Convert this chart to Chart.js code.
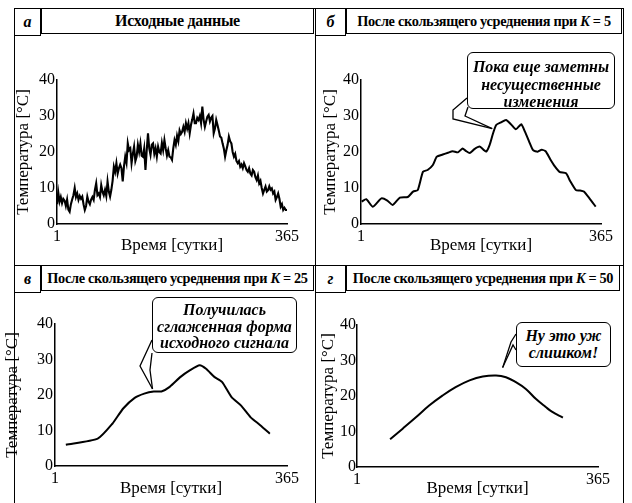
<!DOCTYPE html>
<html>
<head>
<meta charset="utf-8">
<script src="https://cdn.jsdelivr.net/npm/chart.js@4.4.0/dist/chart.umd.min.js"></script>
<style>
    body { margin: 0; background: #fff; width: 632px; height: 503px; position: relative; overflow: hidden; font-family: 'Liberation Serif', 'Times New Roman', serif; color: #000; }
    .frame { position: absolute; box-sizing: border-box; border: 1.5px solid #000; }
    .tag { position: absolute; box-sizing: border-box; border: 1.5px solid #000; background: #fff; font: italic bold 16px 'Liberation Serif', serif; display: flex; align-items: center; justify-content: center; }
    .head { position: absolute; box-sizing: border-box; border: 1.5px solid #000; background: #fff; font: bold 14.3px 'Liberation Serif', serif; display: flex; align-items: center; justify-content: center; white-space: nowrap; letter-spacing: -0.3px; }
    .note { position: absolute; box-sizing: border-box; border: 1.5px solid #000; border-radius: 6px; background: #fff; font: italic bold 16px 'Liberation Serif', serif; text-align: center; z-index: 2; }
    canvas { position: absolute; z-index: 1; }
</style>
</head>
<body>

<!-- panel frames -->
<div class="frame" style="left:14px; top:8px; width:302px; height:258px;"></div>
<div class="frame" style="left:315px; top:8px; width:309px; height:258px;"></div>
<div class="frame" style="left:14px; top:265px; width:302px; height:250px;"></div>
<div class="frame" style="left:315px; top:265px; width:309px; height:250px;"></div>

<div class="tag" style="left:14px; top:8px; width:27px; height:28px;">а</div>
<div class="head" style="left:41px; top:8px; width:273px; height:26px; font-size:16px;">Исходные данные</div>
<div class="tag" style="left:315px; top:8px; width:31px; height:28px;">б</div>
<div class="head" style="left:346px; top:8px; width:276px; height:26px;">После скользящего усреднения при&nbsp;<i>K</i>&nbsp;=&nbsp;5</div>
<div class="tag" style="left:14px; top:265px; width:27px; height:28px;">в</div>
<div class="head" style="left:41px; top:265px; width:273px; height:26px;">После скользящего усреднения при&nbsp;<i>K</i>&nbsp;=&nbsp;25</div>
<div class="tag" style="left:315px; top:265px; width:31px; height:28px;">г</div>
<div class="head" style="left:346px; top:265px; width:274px; height:26px;">После скользящего усреднения при&nbsp;<i>K</i>&nbsp;=&nbsp;50</div>

<canvas id="chartA" width="300" height="222" style="left:2px; top:40px;"></canvas>
<canvas id="chartB" width="300" height="222" style="left:318px; top:40px;"></canvas>
<canvas id="chartC" width="300" height="207" style="left:2px; top:296px;"></canvas>
<canvas id="chartD" width="300" height="207" style="left:318px; top:296px;"></canvas>

<div class="note" style="left:467px; top:52px; width:148px; height:57px; padding-top:5px; line-height:17.5px;">Пока еще заметны<br>несущественные<br>изменения</div>
<div class="note" style="left:152px; top:297px; width:145px; height:56px; padding-top:4px; line-height:16.5px;">Получилась<br>сглаженная форма<br>исходного сигнала</div>
<div class="note" style="left:516px; top:322px; width:95px; height:45px; padding-top:4px; line-height:17px;">Ну это уж<br>слишком!</div>

<script>
// axis ticks shared by all four panels
const xTicks = [1, 365];
const yTicks = [0, 10, 20, 30, 40];
const xTitle = 'Время [сутки]';
const yTitle = 'Температура [°C]';

// а: raw daily data (read every 2nd day)
const rawDays = [];
for (let d = 1; d <= 365; d += 2) rawDays.push(d);
const rawTemps = [
    5.5, 8.8, 6.2, 7.5, 5.8, 7.0, 6.5, 5.0, 6.8, 4.0,
    3.4, 5.5, 6.8, 8.0, 10.0, 7.5, 8.5, 6.7, 7.8, 7.0,
    7.6, 5.5, 3.9, 5.0, 7.6, 6.2, 5.5, 6.8, 7.5, 6.7,
    9.5, 11.3, 8.0, 8.5, 7.5, 10.8, 9.0, 8.0, 9.5, 7.8,
    11.8, 9.0, 7.6, 9.5, 12.0, 15.9, 14.5, 16.9, 14.0, 15.5,
    16.5, 15.5, 11.8, 16.0, 18.7, 17.0, 22.4, 20.5, 21.0, 16.9,
    19.5, 21.5, 17.5, 18.7, 22.0, 20.0, 22.4, 19.0, 18.7, 21.0,
    15.0, 20.5, 25.2, 21.0, 19.2, 22.0, 22.4, 19.5, 21.0, 18.7,
    21.5, 20.0, 19.6, 22.5, 20.5, 23.3, 21.0, 19.0, 20.5, 18.7,
    18.5, 17.8, 21.0, 23.3, 22.0, 24.5, 23.0, 26.0, 25.0, 25.6,
    27.0, 25.6, 28.0, 26.5, 28.0, 25.2, 27.5, 29.0, 30.7, 28.0,
    28.0, 29.5, 28.9, 30.0, 28.0, 32.6, 29.0, 27.0, 28.5, 29.8,
    30.3, 28.5, 29.5, 30.0, 25.2, 26.5, 28.9, 27.5, 26.0, 24.3,
    24.0, 22.4, 21.0, 18.7, 20.5, 22.0, 24.3, 23.0, 22.4, 20.0,
    18.7, 19.5, 17.5, 16.9, 17.5, 15.9, 16.5, 15.5, 16.9, 16.0,
    15.0, 14.5, 15.5, 14.0, 13.5, 15.0, 14.5, 13.0, 12.2, 13.5,
    11.3, 12.0, 10.0, 8.5, 9.5, 10.4, 9.0, 9.4, 10.5, 9.5,
    9.9, 8.5, 9.0, 6.7, 7.5, 8.5, 7.0, 4.8, 5.5, 3.9,
    4.5, 3.9, 3.9
];

// б: K = 5
const k5Days = [2, 9, 19, 32, 41, 49, 60, 72, 80, 87, 95, 102, 110, 116, 125, 133, 140, 148, 155, 160,
    166, 173, 181, 187, 191, 196, 201, 206, 213, 221, 228, 236, 244, 250, 256, 262, 269, 275, 281, 288,
    295, 302, 312, 318, 327, 333, 339, 348, 357];
const k5Temps = [6.2, 6.9, 4.8, 7.1, 6.5, 5.3, 7.3, 7.5, 9.0, 9.4, 14.5, 15.0, 16.4, 18.7, 19.3, 19.8, 20.2, 19.9, 21.0, 20.3,
    19.7, 20.8, 21.5, 20.6, 20.1, 21.9, 25.0, 27.5, 28.2, 28.9, 27.8, 26.3, 27.7, 25.5, 22.9, 20.5, 20.1, 20.6, 20.2, 18.0,
    16.0, 14.5, 14.1, 12.0, 9.4, 9.3, 9.0, 7.0, 4.8];

// в: K = 25
const k25Days = [18, 68, 91, 108, 126, 141, 156, 168, 181, 198, 213, 228, 238, 251, 263, 278, 293, 308, 323, 338];
const k25Temps = [6.0, 7.7, 11.9, 16.2, 19.2, 20.4, 21.0, 21.0, 22.3, 25.1, 27.0, 28.4, 27.4, 25.1, 23.7, 19.4, 17.0, 13.7, 11.5, 9.1];

// г: K = 50
const k50Days = [51, 70, 90, 110, 130, 150, 171, 191, 211, 226, 241, 256, 271, 286, 296, 312];
const k50Temps = [7.8, 10.8, 14.0, 17.3, 20.1, 22.5, 24.4, 25.5, 25.8, 25.3, 23.9, 22.0, 19.2, 16.9, 15.5, 13.9];

const axisFont = { family: "'Liberation Serif', serif", size: 16 };
const titleFont = { family: "'Liberation Serif', serif", size: 17 };

// draws the pointer of a speech bubble; the tip is given in data units
const calloutTail = {
    id: 'calloutTail',
    afterDatasetsDraw(chart, args, opts) {
        if (!opts.tip) return;
        const { ctx, scales: { x, y } } = chart;
        const tx = x.getPixelForValue(opts.tip[0]);
        const ty = y.getPixelForValue(opts.tip[1]);
        ctx.save();
        ctx.strokeStyle = '#000';
        ctx.lineWidth = 1.3;
        opts.arms.forEach(arm => {
            ctx.beginPath();
            ctx.moveTo(arm[0][0], arm[0][1]);
            for (let i = 1; i < arm.length; i++) ctx.lineTo(arm[i][0], arm[i][1]);
            ctx.lineTo(tx, ty);
            ctx.stroke();
        });
        ctx.restore();
    }
};

function makeChart(id, days, temps, g, tail) {
    const ctx = document.getElementById(id).getContext('2d');
    return new Chart(ctx, {
        type: 'line',
        data: {
            datasets: [{
                data: days.map((d, i) => ({ x: d, y: temps[i] })),
                borderColor: '#000',
                borderWidth: g.lw,
                tension: g.tension,
                pointRadius: 0,
                fill: false,
            }],
        },
        options: {
            responsive: false,
            animation: false,
            layout: { padding: { left: 0, top: g.top, right: g.right, bottom: 0 } },
            plugins: {
                legend: { display: false },
                tooltip: { enabled: false },
                calloutTail: tail || {},
            },
            scales: {
                x: {
                    type: 'linear',
                    min: 1,
                    max: 365,
                    afterBuildTicks: s => { s.ticks = xTicks.map(v => ({ value: v })); },
                    afterFit: s => { s.height = g.xh; },
                    grid: { display: false, drawTicks: false },
                    border: { color: '#000', width: 1.5 },
                    ticks: { color: '#000', font: axisFont, padding: 3, maxRotation: 0, autoSkip: false },
                    title: { display: true, text: xTitle, color: '#000', font: titleFont, padding: { top: 0, bottom: g.xTitlePad } },
                },
                y: {
                    min: 0,
                    max: 40,
                    afterBuildTicks: s => { s.ticks = yTicks.map(v => ({ value: v })); },
                    afterFit: s => { s.width = g.left; },
                    grid: { display: false, drawTicks: false },
                    border: { color: '#000', width: 1.5 },
                    ticks: { color: '#000', font: axisFont, padding: g.yPad },
                    title: { display: true, text: yTitle, color: '#000', font: titleFont, padding: { top: g.yTitlePad, bottom: 0 } },
                },
            },
        },
        plugins: [calloutTail],
    });
}

makeChart('chartA', rawDays, rawTemps,
    { left: 55, right: 14, top: 40, xh: 38, xTitlePad: 6, yPad: 2, yTitlePad: 11, lw: 2.1, tension: 0 });

makeChart('chartB', k5Days, k5Temps,
    { left: 43, right: 17, top: 40, xh: 38, xTitlePad: 6, yPad: 2, yTitlePad: 2, lw: 2, tension: 0.2 },
    { tip: [200, 26.5], arms: [[[149, 58], [135, 70], [135, 79]], [[150, 67], [147, 76]]] });

makeChart('chartC', k25Days, k25Temps,
    { left: 53, right: 2, top: 28, xh: 37, xTitlePad: 4, yPad: 2, yTitlePad: 0, lw: 2, tension: 0.2 },
    { tip: [154, 21.7], arms: [[[150, 44], [138, 70]], [[150, 57], [148, 74]]] });

makeChart('chartD', k50Days, k50Temps,
    { left: 39, right: 20, top: 29, xh: 36, xTitlePad: 4, yPad: 1, yTitlePad: 0, lw: 2, tension: 0.4 },
    { tip: [221, 28], arms: [[[198, 38], [193, 46]], [[198, 54], [195, 49]]] });
</script>
</body>
</html>
